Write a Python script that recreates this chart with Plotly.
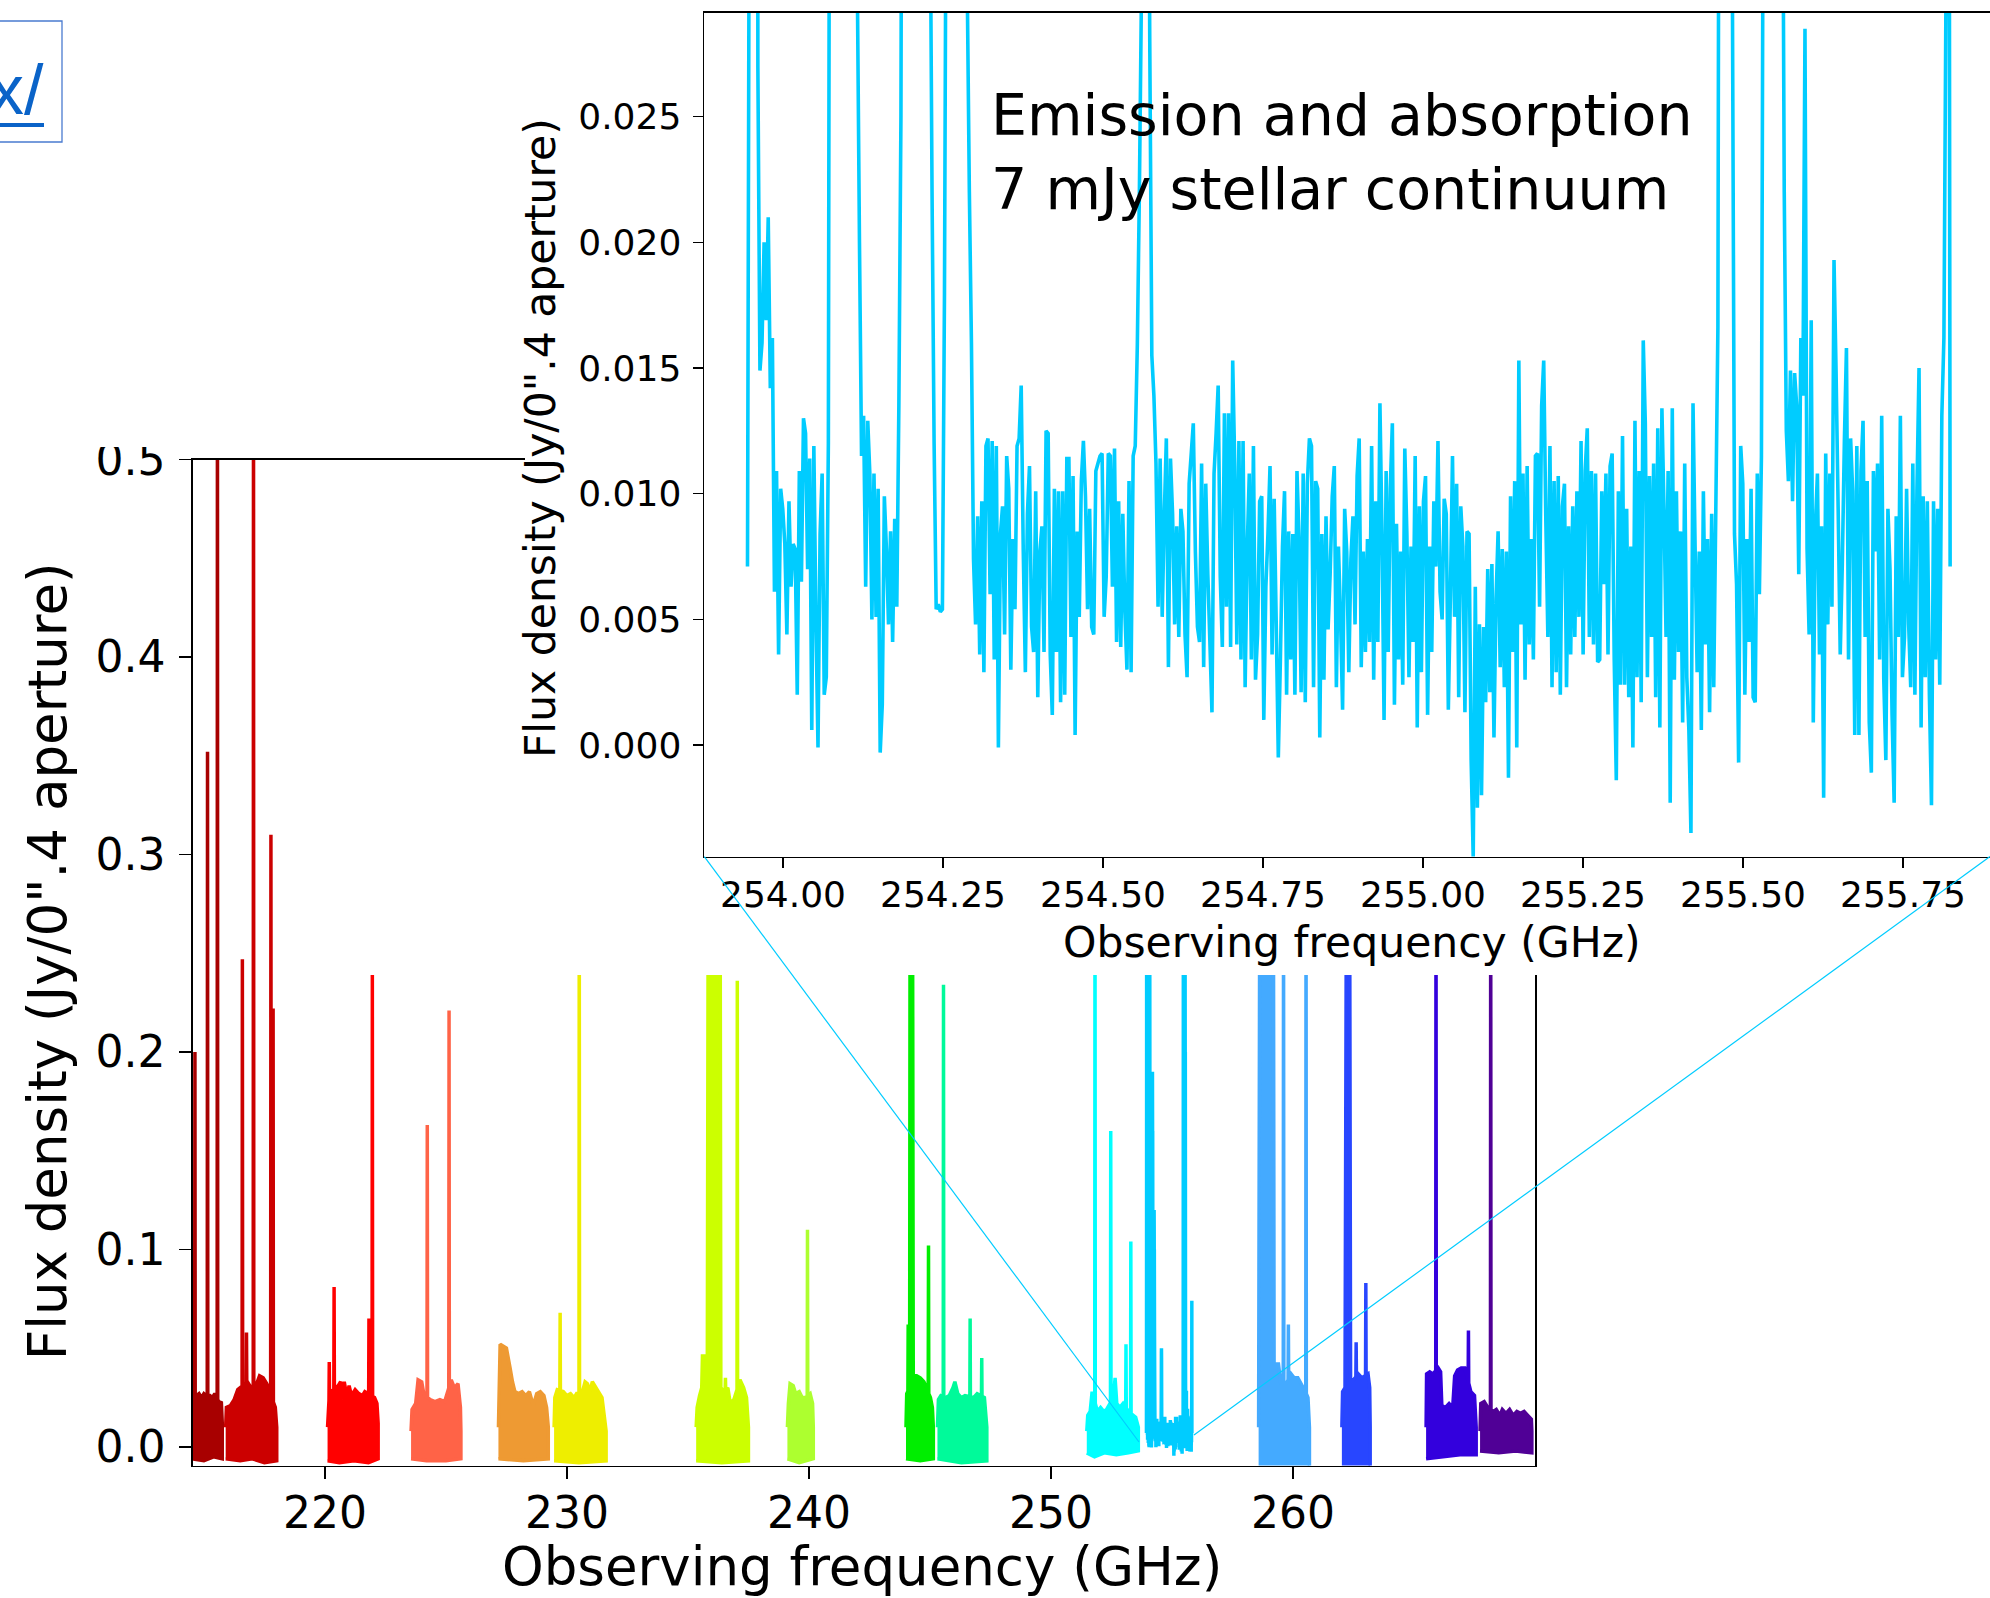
import numpy as np
import plotly.graph_objects as go

W, H = 1990, 1598
FONT = "DejaVu Sans"

# ---------------- inset spectrum (253.9-255.9 GHz window), mJy ----------------
inset_f0_ghz = 253.9445
inset_df_ghz = 0.00324
inset_flux_mjy = [
    7.1, 40, 120, 300, 150, 27, 14.9, 16.0, 20, 16.9,
    21, 14.2, 16.2, 6.1, 10.9, 3.6, 10.2, 9.4, 8.0, 4.4,
    9.7, 6.3, 8.0, 7.8, 2.0, 10.9, 6.5, 13.0, 12.4, 7.0,
    11.4, 0.6, 11.9, 5.0, -0.1, 8.4, 10.8, 2.0, 2.7, 12.0,
    60, 200, 260, 240, 180, 120, 90, 110, 150, 130,
    80, 60, 45, 30, 20, 11.5, 13.1, 6.3, 12.9, 10.8,
    5.0, 10.8, 5.1, 10.2, -0.3, 1.6, 9.9, 7.8, 4.8, 8.5,
    4.1, 9.0, 5.5, 13.5, 25, 60, 140, 190, 170, 150,
    160, 120, 100, 80, 95, 70, 50, 45, 35, 22,
    12.0, 5.4, 5.6, 5.3, 5.4, 18, 40, 80, 120, 110,
    90, 100, 80, 60, 50, 40, 30, 22, 16, 7.4,
    4.8, 9.1, 3.6, 9.7, 2.9, 11.9, 12.2, 6.0, 12.1, 3.4,
    11.9, -0.1, 8.4, 9.5, 4.4, 11.5, 10.2, 3.0, 8.2, 5.4,
    11.9, 12.2, 14.3, 7.7, 2.9, 9.2, 11.1, 4.7, 3.7, 10.1,
    1.9, 7.7, 8.7, 3.7, 12.5, 12.4, 3.6, 1.2, 10.2, 3.7,
    10.1, 1.7, 10.1, 2.0, 11.4, 11.4, 4.3, 10.7, 0.4, 8.5,
    5.1, 10.5, 12.1, 9.9, 5.4, 9.4, 4.7, 4.4, 10.9, 11.2,
    11.5, 11.6, 5.1, 6.7, 11.6, 11.5, 6.3, 11.8, 4.1, 9.7,
    3.9, 9.2, 5.3, 3.0, 10.5, 2.9, 11.5, 11.9, 15.9, 22,
    30, 48, 50, 45, 28, 15.5, 13.9, 11.2, 5.5, 11.4,
    5.1, 9.1, 12.2, 3.1, 11.4, 9.2, 4.8, 8.7, 4.3, 9.4,
    8.5, 4.4, 2.7, 10.4, 11.6, 12.8, 7.7, 4.7, 4.1, 11.2,
    3.1, 10.4, 6.8, 4.1, 1.3, 10.8, 12.4, 14.3, 6.7, 3.9,
    13.2, 5.5, 13.2, 3.9, 15.3, 11.1, 4.0, 12.1, 3.4, 12.1,
    2.3, 7.8, 10.8, 3.4, 11.9, 2.6, 4.4, 9.7, 9.9, 1.0,
    6.3, 8.4, 11.1, 3.6, 9.8, 4.8, -0.5, 3.4, 7.9, 10.1,
    2.0, 8.5, 3.4, 8.4, 2.0, 10.9, 8.2, 2.1, 10.8, 1.7,
    10.4, 12.2, 11.9, 2.3, 10.5, 10.2, 0.3, 8.4, 2.6, 9.1,
    4.6, 6.8, 9.9, 11.1, 2.3, 7.9, 5.1, 1.4, 9.4, 7.7,
    2.9, 7.4, 9.1, 4.8, 10.7, 12.2, 3.1, 7.7, 3.7, 8.2,
    4.1, 11.9, 2.6, 9.7, 4.1, 13.6, 8.4, 1.0, 10.9, 3.7,
    10.2, 12.8, 1.6, 8.8, 3.4, 7.7, 2.4, 11.8, 8.4, 2.7,
    7.9, 4.1, 11.5, 0.7, 9.5, 2.9, 9.7, 10.7, 1.2, 7.9,
    3.7, 9.7, 7.1, 12.1, 6.1, 5.0, 9.8, 9.2, 1.4, 6.0,
    11.5, 5.1, 10.4, 1.9, 9.5, 7.9, 1.3, 8.5, 8.4, -0.6,
    -4.5, 6.3, -2.5, 4.8, -2.0, 4.7, 1.7, 7.0, 2.1, 7.2,
    0.3, 5.8, 8.5, 3.1, 7.8, 2.3, 7.7, -1.3, 9.9, 3.7,
    10.5, -0.1, 15.3, 4.8, 10.8, 2.6, 11.1, 4.0, 8.2, 3.4,
    11.5, 11.6, 5.5, 13.5, 15.3, 9.0, 4.3, 11.9, 2.3, 10.5,
    2.9, 10.7, 2.0, 9.5, 10.4, 2.3, 8.7, 3.6, 9.5, 4.3,
    10.1, 5.1, 12.1, 3.6, 10.9, 12.6, 4.3, 10.9, 4.0, 10.8,
    3.3, 3.4, 10.1, 6.4, 10.8, 3.6, 11.1, 11.6, 3.4, -1.4,
    10.1, 2.4, 12.3, 2.4, 9.4, 1.9, 7.9, -0.1, 12.9, 2.7,
    10.9, 1.7, 16.1, 12.8, 2.7, 10.7, 4.3, 11.2, 1.9, 12.6,
    0.7, 13.4, 9.4, 4.3, 10.9, -2.3, 13.4, 2.6, 10.1, 3.7,
    8.5, 0.9, 11.2, 2.7, 0.6, -3.5, 13.6, 7.9, 2.9, 7.7,
    0.6, 10.1, 4.0, 8.2, 1.3, 9.2, 2.3, 9.4, 16.6, 60,
    180, 300, 280, 200, 90, 30, 8.4, 6.4, -0.7, 11.9,
    10.4, 2.0, 8.2, 4.1, 10.2, 1.9, 1.7, 10.8, 6.0, 11.5,
    40, 150, 240, 260, 220, 180, 200, 150, 90, 40,
    22, 12.5, 10.5, 14.9, 9.7, 14.8, 13.5, 6.8, 16.2, 13.9,
    28.5, 7.8, 4.4, 16.9, 0.9, 8.7, 10.8, 3.6, 8.7, -2.1,
    11.6, 4.8, 10.8, 5.5, 19.3, 14.8, 9.4, 3.6, 7.2, 12.1,
    15.8, 3.4, 12.2, 10.1, 0.4, 11.9, 0.4, 10.9, 12.9, 4.3,
    10.5, 0.9, -1.1, 10.9, 7.7, 11.2, 3.4, 13.1, 2.6, -0.6,
    9.4, 7.0, 1.2, -2.3, 9.1, 4.3, 13.1, 2.7, 4.3, 10.2,
    4.8, 2.3, 11.2, 2.0, 10.2, 15.0, 0.7, 9.9, 2.7, 9.7,
    2.0, -2.4, 9.7, 3.4, 9.4, 2.4, 13.1, 16.2, 30, 74,
    7.1,
]
inset_color = "#00CCFF"

# ---------------- other spectral windows (GHz, Jy) ----------------
w01_color = "#A80000"
w01_top_f = [214.50, 214.56, 214.70, 214.80, 214.90, 215.00, 215.10, 215.25, 215.35, 215.45, 215.65, 215.72, 215.76]
w01_top_v = [0.018, 0.020, 0.026, 0.027, 0.025, 0.027, 0.026, 0.026, 0.025, 0.027, 0.022, 0.023, 0.012]
w01_spk_f = [214.63, 215.15, 215.56]
w01_spk_v = [0.200, 0.352, 0.60]
w01_bot_f = [214.50, 215.00, 215.40, 215.76]
w01_bot_v = [-0.006, -0.007, -0.005, -0.006]

w02_color = "#CC0000"
w02_top_f = [215.90, 215.93, 216.10, 216.25, 216.40, 216.70, 216.80, 216.95, 217.15, 217.30, 217.45, 217.60, 217.95, 218.01]
w02_top_v = [0.010, 0.020, 0.021, 0.024, 0.029, 0.032, 0.033, 0.030, 0.031, 0.036, 0.035, 0.032, 0.020, 0.010]
w02_spk_f = [216.59, 216.76, 217.05, 217.77, 217.86]
w02_spk_v = [0.247, 0.058, 0.60, 0.31, 0.222]
w02_bot_f = [215.90, 216.50, 217.00, 217.50, 218.01]
w02_bot_v = [-0.006, -0.007, -0.006, -0.008, -0.007]

w03_color = "#FF0000"
w03_top_f = [220.11, 220.14, 220.25, 220.45, 220.55, 220.65, 220.72, 220.80, 220.90, 221.00, 221.10, 221.25, 221.40, 221.55, 221.65, 222.05, 222.15, 222.20]
w03_top_v = [0.010, 0.022, 0.028, 0.030, 0.031, 0.033, 0.024, 0.033, 0.026, 0.031, 0.026, 0.029, 0.027, 0.026, 0.028, 0.025, 0.022, 0.012]
w03_spk_f = [220.18, 220.38, 221.82, 221.96]
w03_spk_v = [0.043, 0.081, 0.065, 0.239]
w03_bot_f = [220.11, 220.60, 221.20, 221.80, 222.20]
w03_bot_v = [-0.007, -0.008, -0.007, -0.008, -0.006]

w04_color = "#FF6347"
w04_top_f = [223.56, 223.60, 223.75, 223.85, 224.00, 224.10, 224.35, 224.55, 224.75, 224.95, 225.22, 225.35, 225.50, 225.60, 225.62]
w04_top_v = [0.008, 0.019, 0.022, 0.034, 0.033, 0.026, 0.024, 0.023, 0.024, 0.023, 0.034, 0.030, 0.032, 0.020, 0.008]
w04_spk_f = [224.23, 225.13]
w04_spk_v = [0.163, 0.221]
w04_bot_f = [223.56, 224.20, 225.00, 225.62]
w04_bot_v = [-0.006, -0.007, -0.007, -0.006]

w05_color = "#EE9A33"
w05_top_f = [227.17, 227.20, 227.24, 227.50, 227.55, 227.65, 227.75, 227.85, 228.00, 228.15, 228.30, 228.45, 228.61, 228.75, 228.90, 229.05, 229.16, 229.23]
w05_top_v = [0.010, 0.040, 0.052, 0.050, 0.046, 0.040, 0.033, 0.028, 0.027, 0.028, 0.026, 0.028, 0.021, 0.027, 0.028, 0.026, 0.020, 0.010]
w05_spk_f = []
w05_spk_v = []
w05_bot_f = [227.17, 228.20, 229.23]
w05_bot_v = [-0.006, -0.007, -0.006]

w06_color = "#EEEE00"
w06_top_f = [229.47, 229.50, 229.60, 229.85, 230.00, 230.15, 230.30, 230.40, 230.62, 230.75, 230.85, 230.95, 231.05, 231.15, 231.30, 231.45, 231.55, 231.62]
w06_top_v = [0.010, 0.025, 0.029, 0.028, 0.026, 0.027, 0.025, 0.027, 0.027, 0.033, 0.032, 0.028, 0.033, 0.031, 0.028, 0.025, 0.015, 0.008]
w06_spk_f = [229.72, 230.51]
w06_spk_v = [0.068, 0.30]
w06_bot_f = [229.47, 230.50, 231.62]
w06_bot_v = [-0.007, -0.008, -0.007]

w07_color = "#CCFF00"
w07_top_f = [235.34, 235.38, 235.48, 235.57, 235.60, 235.75, 235.80, 235.84, 236.33, 236.36, 236.50, 236.65, 236.75, 236.90, 237.15, 237.30, 237.42, 237.50]
w07_top_v = [0.010, 0.020, 0.026, 0.030, 0.046, 0.046, 0.040, 0.30, 0.30, 0.030, 0.028, 0.030, 0.022, 0.024, 0.034, 0.030, 0.025, 0.010]
w07_spk_f = [236.55, 237.04]
w07_spk_v = [0.035, 0.236]
w07_bot_f = [235.34, 236.40, 237.50]
w07_bot_v = [-0.007, -0.008, -0.007]

w08_color = "#ADFF2F"
w08_top_f = [239.11, 239.15, 239.22, 239.35, 239.45, 239.60, 239.72, 239.85, 240.05, 240.15, 240.18]
w08_top_v = [0.010, 0.022, 0.032, 0.031, 0.027, 0.028, 0.025, 0.025, 0.027, 0.022, 0.010]
w08_spk_f = [239.94]
w08_spk_v = [0.110]
w08_bot_f = [239.11, 239.60, 240.18]
w08_bot_v = [-0.006, -0.008, -0.006]

w09_color = "#00EE00"
w09_top_f = [244.01, 244.04, 244.16, 244.18, 244.28, 244.31, 244.45, 244.60, 244.75, 244.85, 245.02, 245.10, 245.14]
w09_top_v = [0.010, 0.027, 0.030, 0.30, 0.30, 0.036, 0.036, 0.035, 0.033, 0.030, 0.025, 0.020, 0.010]
w09_spk_f = [244.10, 244.94]
w09_spk_v = [0.062, 0.102]
w09_bot_f = [244.01, 244.60, 245.14]
w09_bot_v = [-0.006, -0.007, -0.006]

w10_color = "#00FA9A"
w10_top_f = [245.31, 245.35, 245.45, 245.65, 245.80, 245.95, 246.03, 246.15, 246.30, 246.45, 246.80, 246.95, 247.25, 247.35]
w10_top_v = [0.010, 0.024, 0.026, 0.025, 0.026, 0.030, 0.033, 0.027, 0.025, 0.026, 0.025, 0.027, 0.025, 0.010]
w10_spk_f = [245.56, 246.66, 247.14]
w10_spk_v = [0.234, 0.065, 0.045]
w10_bot_f = [245.31, 246.30, 247.35]
w10_bot_v = [-0.006, -0.008, -0.007]

w11_color = "#00FFFF"
w11_top_f = [251.48, 251.52, 251.62, 251.70, 251.92, 252.05, 252.18, 252.30, 252.58, 252.65, 252.72, 252.85, 252.98, 253.20, 253.40, 253.50, 253.61]
w11_top_v = [0.008, 0.016, 0.018, 0.028, 0.018, 0.020, 0.018, 0.019, 0.025, 0.035, 0.022, 0.020, 0.022, 0.018, 0.016, 0.015, 0.010]
w11_spk_f = [251.82, 252.47, 253.10, 253.30]
w11_spk_v = [0.30, 0.160, 0.052, 0.104]
w11_bot_f = [251.48, 251.80, 252.20, 252.70, 253.20, 253.61]
w11_bot_v = [-0.003, -0.005, -0.003, -0.004, -0.003, -0.002]

w13_color = "#44AAFF"
w13_top_f = [258.58, 258.60, 258.63, 259.19, 259.22, 259.40, 259.50, 259.72, 259.92, 260.05, 260.20, 260.35, 260.45, 260.62, 260.68]
w13_top_v = [0.010, 0.15, 0.30, 0.30, 0.042, 0.042, 0.032, 0.032, 0.037, 0.035, 0.035, 0.032, 0.030, 0.025, 0.010]
w13_spk_f = [259.61, 259.81, 260.54]
w13_spk_v = [0.30, 0.062, 0.30]
w13_bot_f = [258.58, 260.68]
w13_bot_v = [-0.012, -0.012]

w14_color = "#2846FF"
w14_top_f = [262.02, 262.05, 262.15, 262.21, 262.34, 262.38, 262.50, 262.70, 262.85, 263.10, 263.17, 263.19]
w14_top_v = [0.010, 0.028, 0.030, 0.30, 0.30, 0.034, 0.034, 0.037, 0.035, 0.037, 0.030, 0.010]
w14_spk_f = [262.61, 263.01]
w14_spk_v = [0.053, 0.083]
w14_bot_f = [262.02, 263.19]
w14_bot_v = [-0.012, -0.012]

w15_color = "#3300DD"
w15_top_f = [265.50, 265.52, 265.65, 265.78, 266.00, 266.10, 266.15, 266.30, 266.45, 266.60, 266.68, 266.80, 266.95, 267.10, 267.35, 267.50, 267.57]
w15_top_v = [0.010, 0.037, 0.038, 0.037, 0.040, 0.038, 0.021, 0.020, 0.022, 0.020, 0.036, 0.039, 0.040, 0.040, 0.028, 0.026, 0.010]
w15_spk_f = [265.91, 267.25]
w15_spk_v = [0.30, 0.059]
w15_bot_f = [265.50, 266.20, 266.90, 267.57]
w15_bot_v = [-0.006, -0.005, -0.004, -0.004]

w16_color = "#500096"
w16_top_f = [267.73, 267.76, 267.90, 268.05, 268.28, 268.40, 268.55, 268.65, 268.80, 268.95, 269.10, 269.25, 269.40, 269.55, 269.70, 269.85, 269.87]
w16_top_v = [0.008, 0.022, 0.023, 0.020, 0.018, 0.019, 0.016, 0.019, 0.017, 0.019, 0.016, 0.018, 0.017, 0.018, 0.016, 0.014, 0.008]
w16_spk_f = [268.17]
w16_spk_v = [0.30]
w16_bot_f = [267.73, 268.50, 269.20, 269.87]
w16_bot_v = [-0.002, -0.003, -0.002, -0.003]

main_xticks = [220, 230, 240, 250, 260]
main_xticklabels = ["220", "230", "240", "250", "260"]
main_yticks = [0.0, 0.1, 0.2, 0.3, 0.4, 0.5]
main_yticklabels = ["0.0", "0.1", "0.2", "0.3", "0.4", "0.5"]
inset_xticks = [254.00, 254.25, 254.50, 254.75, 255.00, 255.25, 255.50, 255.75]
inset_xticklabels = ["254.00", "254.25", "254.50", "254.75", "255.00", "255.25", "255.50", "255.75"]
inset_yticks = [0.000, 0.005, 0.010, 0.015, 0.020, 0.025]
inset_yticklabels = ["0.000", "0.005", "0.010", "0.015", "0.020", "0.025"]

windows = [
    (w01_color, w01_top_f, w01_top_v, w01_spk_f, w01_spk_v, w01_bot_f, w01_bot_v),
    (w02_color, w02_top_f, w02_top_v, w02_spk_f, w02_spk_v, w02_bot_f, w02_bot_v),
    (w03_color, w03_top_f, w03_top_v, w03_spk_f, w03_spk_v, w03_bot_f, w03_bot_v),
    (w04_color, w04_top_f, w04_top_v, w04_spk_f, w04_spk_v, w04_bot_f, w04_bot_v),
    (w05_color, w05_top_f, w05_top_v, w05_spk_f, w05_spk_v, w05_bot_f, w05_bot_v),
    (w06_color, w06_top_f, w06_top_v, w06_spk_f, w06_spk_v, w06_bot_f, w06_bot_v),
    (w07_color, w07_top_f, w07_top_v, w07_spk_f, w07_spk_v, w07_bot_f, w07_bot_v),
    (w08_color, w08_top_f, w08_top_v, w08_spk_f, w08_spk_v, w08_bot_f, w08_bot_v),
    (w09_color, w09_top_f, w09_top_v, w09_spk_f, w09_spk_v, w09_bot_f, w09_bot_v),
    (w10_color, w10_top_f, w10_top_v, w10_spk_f, w10_spk_v, w10_bot_f, w10_bot_v),
    (w11_color, w11_top_f, w11_top_v, w11_spk_f, w11_spk_v, w11_bot_f, w11_bot_v),
    (w13_color, w13_top_f, w13_top_v, w13_spk_f, w13_spk_v, w13_bot_f, w13_bot_v),
    (w14_color, w14_top_f, w14_top_v, w14_spk_f, w14_spk_v, w14_bot_f, w14_bot_v),
    (w15_color, w15_top_f, w15_top_v, w15_spk_f, w15_spk_v, w15_bot_f, w15_bot_v),
    (w16_color, w16_top_f, w16_top_v, w16_spk_f, w16_spk_v, w16_bot_f, w16_bot_v),
]

# ---------------- geometry helpers (pixel -> paper) ----------------
def px(x):
    return x / W

def py(y):
    return 1 - y / H

main_dom_x = [px(193), px(1535)]
main_dom_y = [py(1465.5), py(459.5)]
cover_dom_x = [px(525), 1.0]
cover_dom_y = [py(975), 1.0]
inset_dom_x = [px(704.3), 1.0]
inset_dom_y = [py(856.6), py(12.7)]

fig = go.Figure()

SPK_HALF = 0.012
for color, tf, tv, sf, sv, bf, bv in windows:
    pts = list(zip(tf, tv))
    for f, v in zip(sf, sv):
        b1 = float(np.interp(f - SPK_HALF, tf, tv))
        b2 = float(np.interp(f + SPK_HALF, tf, tv))
        pts += [(f - SPK_HALF, b1), (f, v), (f + SPK_HALF, b2)]
    pts.sort(key=lambda p: p[0])
    xs = [p[0] for p in pts] + list(bf[::-1])
    ys = [p[1] for p in pts] + list(bv[::-1])
    fig.add_trace(go.Scatter(x=xs, y=ys, mode="lines", fill="toself", fillcolor=color,
                             line=dict(color=color, width=3.5), xaxis="x", yaxis="y",
                             hoverinfo="skip", showlegend=False))

inset_freq = inset_f0_ghz + inset_df_ghz * np.arange(len(inset_flux_mjy))
inset_flux_jy = np.array(inset_flux_mjy) / 1000.0

# same window drawn on the overview panel
fig.add_trace(go.Scatter(x=inset_freq, y=inset_flux_jy, mode="lines",
                         line=dict(color=inset_color, width=3.5, simplify=False), xaxis="x", yaxis="y",
                         hoverinfo="skip", showlegend=False))
# white cover panel (hides overview behind the inset block)
fig.add_trace(go.Scatter(x=[None], y=[None], mode="lines", xaxis="x2", yaxis="y2",
                         hoverinfo="skip", showlegend=False))
# inset panel
fig.add_trace(go.Scatter(x=inset_freq, y=inset_flux_jy, mode="lines",
                         line=dict(color=inset_color, width=3.6, simplify=False), xaxis="x3", yaxis="y3",
                         hoverinfo="skip", showlegend=False))

axis_common = dict(showgrid=False, zeroline=False, showline=True, linecolor="black",
                   ticks="outside", tickcolor="black", automargin=False)

fig.update_layout(
    width=W, height=H,
    margin=dict(l=0, r=0, t=0, b=0, pad=0, autoexpand=False),
    paper_bgcolor="white", plot_bgcolor="white", showlegend=False,
    font=dict(family=FONT, color="black"),
    xaxis=dict(domain=main_dom_x, range=[214.55, 270.0], anchor="y",
               tickvals=main_xticks, ticktext=main_xticklabels,
               tickfont=dict(size=44, family=FONT, color="black"), ticklabelstandoff=-4,
               ticklen=12, tickwidth=1.6, linewidth=1.8, mirror=True, **axis_common),
    yaxis=dict(domain=main_dom_y, range=[-0.0094, 0.5], anchor="x",
               tickvals=main_yticks, ticktext=main_yticklabels,
               tickfont=dict(size=44, family=FONT, color="black"), ticklabelstandoff=5,
               ticklen=12, tickwidth=1.6, linewidth=1.8, mirror=True, **axis_common),
    xaxis2=dict(domain=cover_dom_x, range=[0, 1], anchor="y2", visible=False),
    yaxis2=dict(domain=cover_dom_y, range=[0, 1], anchor="x2", visible=False),
    xaxis3=dict(domain=inset_dom_x, range=[253.877, 255.886], anchor="y3",
                tickvals=inset_xticks, ticktext=inset_xticklabels,
                tickfont=dict(size=36, family=FONT, color="black"), ticklabelstandoff=-5,
                ticklen=10, tickwidth=1.5, linewidth=1.8, mirror=True, **axis_common),
    yaxis3=dict(domain=inset_dom_y, range=[-0.00444, 0.02914], anchor="x3",
                tickvals=inset_yticks, ticktext=inset_yticklabels,
                tickfont=dict(size=36, family=FONT, color="black"), ticklabelstandoff=4,
                ticklen=10, tickwidth=1.5, linewidth=1.8, mirror=False, **axis_common),
)

ann = []
# axis titles
ann.append(dict(text="Observing frequency (GHz)", x=px(862), y=py(1566), xref="paper", yref="paper",
                xanchor="center", yanchor="middle", showarrow=False, font=dict(size=53, family=FONT, color="black")))
ann.append(dict(text="Flux density (Jy/0\".4 aperture)", x=px(48.3), y=py(961), xref="paper", yref="paper",
                xanchor="center", yanchor="middle", textangle=-90, showarrow=False,
                font=dict(size=53, family=FONT, color="black")))
ann.append(dict(text="Observing frequency (GHz)", x=px(1352), y=py(942.3), xref="paper", yref="paper",
                xanchor="center", yanchor="middle", showarrow=False, font=dict(size=42.5, family=FONT, color="black")))
ann.append(dict(text="Flux density (Jy/0\".4 aperture)", x=px(540.3), y=py(437.8), xref="paper", yref="paper",
                xanchor="center", yanchor="middle", textangle=-90, showarrow=False,
                font=dict(size=42.5, family=FONT, color="black")))
# inset text
ann.append(dict(text="Emission and absorption", x=px(989), y=py(114.8), xref="paper", yref="paper",
                xanchor="left", yanchor="middle", showarrow=False, font=dict(size=57, family=FONT, color="black")))
ann.append(dict(text="7 mJy stellar continuum", x=px(989), y=py(189.3), xref="paper", yref="paper",
                xanchor="left", yanchor="middle", showarrow=False, font=dict(size=57, family=FONT, color="black")))
# cropped hyperlink remnant (top-left)
ann.append(dict(text="x/", x=px(46), y=py(90), xref="paper", yref="paper",
                xanchor="right", yanchor="middle", showarrow=False,
                font=dict(size=70, family="Liberation Sans", color="#0A63C8")))
fig.update_layout(annotations=ann)

shapes = []
# connector lines of the zoom
shapes.append(dict(type="line", xref="paper", yref="paper", x0=px(704.3), y0=py(856.6), x1=px(1139), y1=py(1442),
                   line=dict(color=inset_color, width=1.2), layer="above"))
shapes.append(dict(type="line", xref="paper", yref="paper", x0=px(1990), y0=py(856.6), x1=px(1194), y1=py(1435),
                   line=dict(color=inset_color, width=1.2), layer="above"))
# crop edge above the overview panel
shapes.append(dict(type="rect", xref="paper", yref="paper", x0=px(66), x1=px(190), y0=py(447), y1=py(150),
                   fillcolor="white", line=dict(width=0), layer="above"))
# hyperlink box and underline
shapes.append(dict(type="rect", xref="paper", yref="paper", x0=px(-10), x1=px(62), y0=py(142), y1=py(21),
                   fillcolor="rgba(0,0,0,0)", line=dict(color="#4A7BD0", width=1.3), layer="above"))
shapes.append(dict(type="line", xref="paper", yref="paper", x0=px(0), x1=px(44), y0=py(125), y1=py(125),
                   line=dict(color="#0A63C8", width=4), layer="above"))
fig.update_layout(shapes=shapes)

fig.write_html("out.html",
               config={"displayModeBar": False, "staticPlot": True},
               post_script="document.body.style.margin='0px';document.body.style.padding='0px';")
